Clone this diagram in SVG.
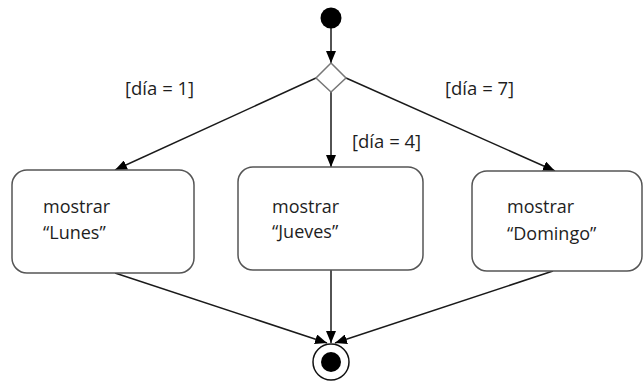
<svg xmlns="http://www.w3.org/2000/svg" width="644" height="382" viewBox="0 0 644 382">
<style>
.box{fill:#fff;stroke:#555;stroke-width:1.5}
.ln{stroke:#1a1a1a;stroke-width:1.5;fill:none}
.t{font-family:"Open Sans","Noto Sans",sans-serif;font-size:18px;fill:#1e1e1e}
.lbl{font-family:"Open Sans","Noto Sans",sans-serif;font-size:18.5px;fill:#1e1e1e}
</style>
<defs>
<marker id="ah" viewBox="0 0 12 10" refX="12" refY="5" markerWidth="12" markerHeight="10" markerUnits="userSpaceOnUse" orient="auto">
<path d="M0,0 L12,5 L0,10 Z" fill="#000"/>
</marker>
</defs>
<rect width="644" height="382" fill="#fff"/>
<g id="connectors">
<line class="ln" x1="331" y1="28" x2="331" y2="63" marker-end="url(#ah)"/>
<line class="ln" x1="316" y1="78" x2="115" y2="170" marker-end="url(#ah)"/>
<line class="ln" x1="331" y1="92" x2="331" y2="167" marker-end="url(#ah)"/>
<line class="ln" x1="346" y1="78" x2="555" y2="171" marker-end="url(#ah)"/>
<line class="ln" x1="115" y1="273" x2="327" y2="343" marker-end="url(#ah)"/>
<line class="ln" x1="331" y1="270" x2="331" y2="343" marker-end="url(#ah)"/>
<line class="ln" x1="553" y1="271" x2="335" y2="343" marker-end="url(#ah)"/>
</g>
<g id="start"><circle cx="331" cy="18" r="10.5" fill="#000"/></g>
<g id="decision"><path d="M331,63 L346,78 L331,92 L316,78 Z" fill="#fff" stroke="#777" stroke-width="1.5"/></g>
<g id="lbl1"><text class="lbl" x="125" y="95">[día = 1]</text></g>
<g id="lbl4"><text class="lbl" x="352" y="148">[día = 4]</text></g>
<g id="lbl7"><text class="lbl" x="445" y="95">[día = 7]</text></g>
<g id="lunes">
<rect class="box" x="12" y="170" width="182" height="103" rx="15"/>
<text class="t" x="43" y="213">mostrar</text>
<text class="t" x="43" y="239">“Lunes”</text>
</g>
<g id="jueves">
<rect class="box" x="238" y="167" width="185" height="103" rx="15"/>
<text class="t" x="272" y="213">mostrar</text>
<text class="t" x="272" y="238">“Jueves”</text>
</g>
<g id="domingo">
<rect class="box" x="472" y="171" width="170" height="100" rx="15"/>
<text class="t" x="507" y="213">mostrar</text>
<text class="t" x="507" y="240">“Domingo”</text>
</g>
<g id="end">
<circle cx="331" cy="362" r="18" fill="#fff" stroke="#111" stroke-width="1.5"/>
<circle cx="331" cy="362" r="10" fill="#000"/>
</g>
</svg>
